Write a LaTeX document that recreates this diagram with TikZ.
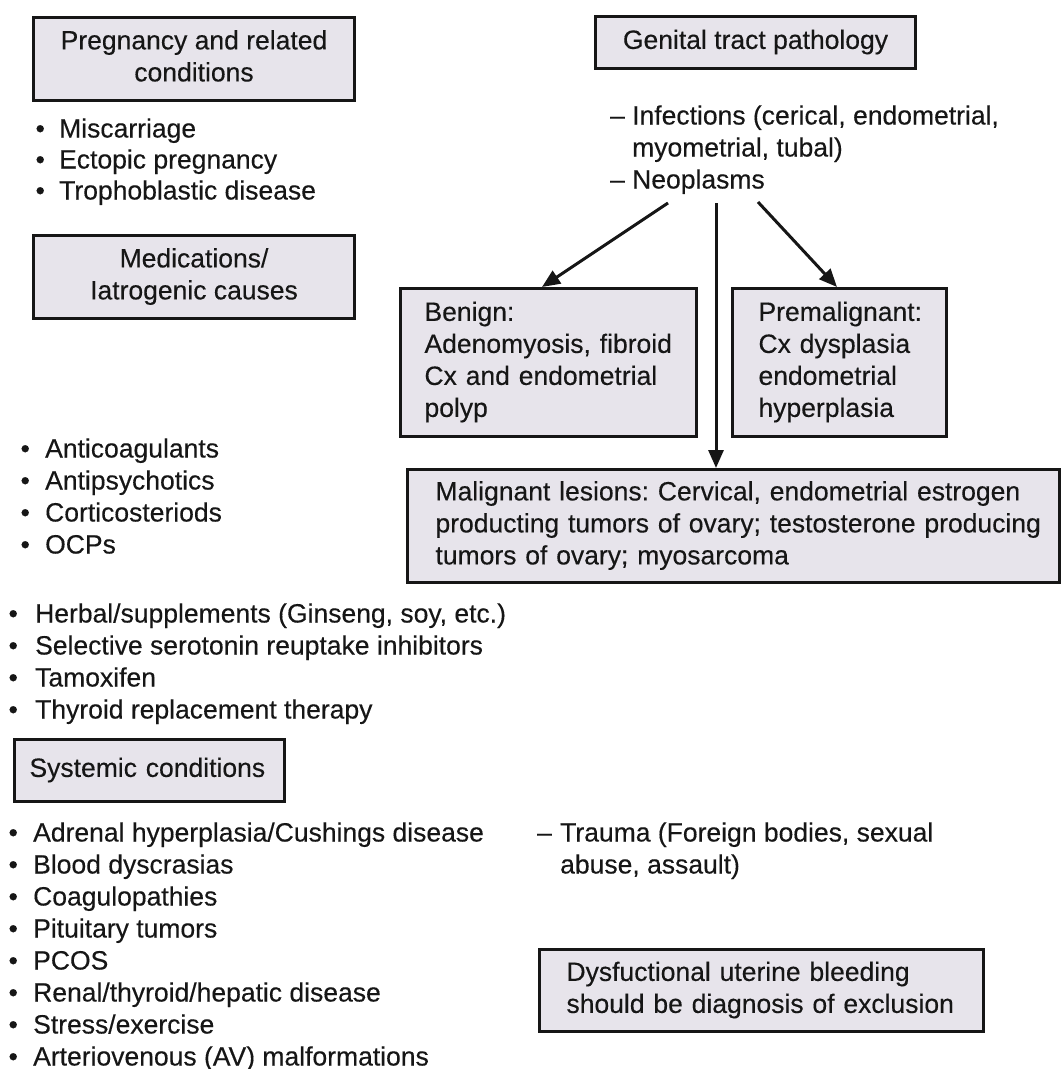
\documentclass[tikz,border=0pt]{standalone}
\usepackage{fontspec}
\setmainfont{Liberation Sans}[FakeBold=0.3]
\usetikzlibrary{arrows.meta}
\definecolor{boxfill}{RGB}{231,228,235}
\definecolor{ink}{RGB}{22,22,22}
\newcommand\myline[1]{\mbox{\strut #1}}
\newcommand\bul[1]{\makebox[#1][l]{•}}
\newcommand\dsh[1]{\makebox[#1][l]{–}}
\frenchspacing
\begin{document}
\begin{tikzpicture}[x=1pt,y=-1pt,
  every node/.style={font=\fontsize{26.5}{32}\selectfont\frenchspacing, text=ink},
  box/.style={draw=ink, line width=3pt, fill=boxfill, anchor=north west, inner ysep=0pt},
  cbox/.style={box, align=center, inner xsep=0pt},
  lbox/.style={box, align=left},
  list/.style={anchor=north west, inner sep=0pt, align=left},
  arr/.style={draw=ink, line width=3pt, -{Triangle[length=18pt,width=15pt]}}]
\useasboundingbox (0,0) rectangle (1061,1069);

% left column
\node[cbox, minimum width=321pt, minimum height=83pt] (preg) at (32,16)
  {\myline{Pregnancy and related}\\\myline{conditions}};
\node[list, font=\fontsize{26.5}{31}\selectfont\frenchspacing] (preglist) at (35.4,115.6)
  {\myline{\bul{23.6pt}Miscarriage}\\
   \myline{\bul{23.6pt}Ectopic pregnancy}\\
   \myline{\bul{23.6pt}Trophoblastic disease}};
\node[cbox, minimum width=321pt, minimum height=83pt] (med) at (32,234)
  {\myline{Medications/}\\\myline{Iatrogenic causes}};
\node[list] (medlistA) at (20.4,434.9)
  {\myline{\bul{24.6pt}Anticoagulants}\\
   \myline{\bul{24.6pt}Antipsychotics}\\
   \myline{\bul{24.6pt}Corticosteriods}\\
   \myline{\bul{24.6pt}OCPs}};
\node[list] (medlistB) at (8.4,599.9)
  {\myline{\bul{26.6pt}Herbal/supplements (Ginseng, soy, etc.)}\\
   \myline{\bul{26.6pt}Selective serotonin reuptake inhibitors}\\
   \myline{\bul{26.6pt}Tamoxifen}\\
   \myline{\bul{26.6pt}Thyroid replacement therapy}};
\node[lbox, inner xsep=15pt, text width=240pt, minimum height=62pt] (sys) at (13,738)
  {\myline{Systemic conditions}};
\node[list] (syslist) at (8.4,818.9)
  {\myline{\bul{24.6pt}Adrenal hyperplasia/Cushings disease}\\
   \myline{\bul{24.6pt}Blood dyscrasias}\\
   \myline{\bul{24.6pt}Coagulopathies}\\
   \myline{\bul{24.6pt}Pituitary tumors}\\
   \myline{\bul{24.6pt}PCOS}\\
   \myline{\bul{24.6pt}Renal/thyroid/hepatic disease}\\
   \myline{\bul{24.6pt}Stress/exercise}\\
   \myline{\bul{24.6pt}Arteriovenous (AV) malformations}};

% right column
\node[cbox, minimum width=320pt, minimum height=52pt] (gen) at (594,15)
  {\myline{Genital tract pathology}};
\node[list] (inf) at (610,101.9)
  {\myline{\dsh{22pt}Infections (cerical, endometrial,}\\
   \myline{\hspace*{22pt}myometrial, tubal)}\\
   \myline{\dsh{22pt}Neoplasms}};
\node[lbox, inner xsep=24pt, text width=248pt, minimum height=148pt] (benign) at (399,287)
  {\myline{Benign:}\\\myline{Adenomyosis, fibroid}\\\myline{Cx and endometrial}\\\myline{polyp}};
\node[lbox, inner xsep=26pt, text width=162pt, minimum height=148pt] (premal) at (731,287)
  {\myline{Premalignant:}\\\myline{Cx dysplasia}\\\myline{endometrial}\\\myline{hyperplasia}};
\node[lbox, inner xsep=28pt, text width=596pt, minimum height=113pt] (malig) at (406,468)
  {\myline{Malignant lesions: Cervical, endometrial estrogen}\\
   \myline{producting tumors of ovary; testosterone producing}\\
   \myline{tumors of ovary; myosarcoma}};
\node[list] (trauma) at (537,818.9)
  {\myline{\dsh{23pt}Trauma (Foreign bodies, sexual}\\
   \myline{\hspace*{23pt}abuse, assault)}};
\node[lbox, inner xsep=27pt, text width=390pt, minimum height=82pt] (dub) at (538,948)
  {\myline{Dysfuctional uterine bleeding}\\\myline{should be diagnosis of exclusion}};

% connectors
\coordinate (s1) at (668,203);
\coordinate (s2) at (716,203);
\coordinate (s3) at (758,202);
\draw[arr] (s1) -- ([xshift=143pt]benign.north west);
\draw[arr] (s2) -- (s2 |- malig.north);
\draw[arr] (s3) -- ([xshift=106pt]premal.north west);
\end{tikzpicture}
\end{document}
